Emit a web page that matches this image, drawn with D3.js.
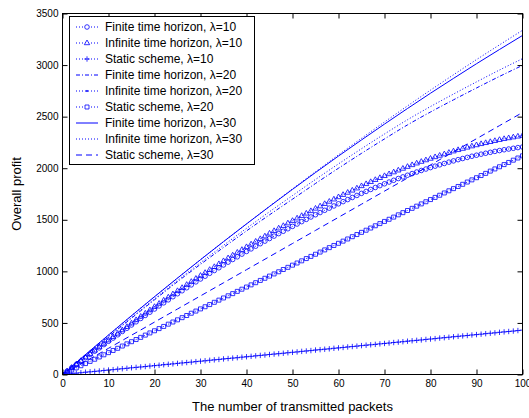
<!DOCTYPE html>
<html>
<head>
<meta charset="utf-8">
<script src="https://d3js.org/d3.v7.min.js"></script>
<style>
body { margin: 0; background: #fff; }
text { font-family: "Liberation Sans", Arial, Helvetica, sans-serif; }
.line { fill: none; stroke: #0000ff; stroke-width: 1px; }
</style>
</head>
<body>
<div id="chart"></div>
<script>
// x positions: every packet (marker series) and every 5 packets (plain lines)
var xFine = d3.range(0, 101);
var xCoarse = d3.range(0, 101, 5);

var xTicks = [0, 10, 20, 30, 40, 50, 60, 70, 80, 90, 100];
var yTicks = [0, 500, 1000, 1500, 2000, 2500, 3000, 3500];

var labels = [
  "Finite time horizon, \u03bb=10",
  "Infinite time horizon, \u03bb=10",
  "Static scheme, \u03bb=10",
  "Finite time horizon, \u03bb=20",
  "Infinite time horizon, \u03bb=20",
  "Static scheme, \u03bb=20",
  "Finite time horizon, \u03bb=30",
  "Infinite time horizon, \u03bb=30",
  "Static scheme, \u03bb=30"
];

// values
var finite10 = [0,32,65,97,129,162,194,226,258,290,
  322,353,385,417,448,480,511,543,573,604,
  635,665,695,724,754,783,812,841,869,898,
  926,953,981,1008,1035,1062,1089,1115,1141,1167,
  1193,1218,1244,1268,1293,1318,1342,1366,1389,1413,
  1436,1459,1482,1504,1527,1549,1570,1592,1613,1634,
  1655,1676,1696,1716,1736,1756,1775,1794,1813,1831,
  1849,1866,1883,1900,1916,1932,1948,1963,1978,1992,
  2006,2020,2033,2046,2059,2071,2083,2094,2105,2116,
  2126,2136,2145,2154,2163,2171,2179,2186,2193,2200,
  2206];

var infinite10 = [0,33,67,100,133,168,201,234,267,300,
  333,365,398,431,463,497,529,562,593,625,
  657,688,719,749,780,811,841,871,900,930,
  959,987,1016,1044,1072,1101,1129,1156,1183,1210,
  1237,1263,1290,1315,1341,1368,1393,1418,1442,1467,
  1491,1515,1539,1562,1586,1610,1632,1655,1677,1699,
  1721,1743,1764,1785,1806,1828,1848,1868,1888,1907,
  1926,1944,1962,1980,1997,2015,2032,2048,2064,2079,
  2094,2109,2123,2137,2151,2165,2178,2190,2202,2214,
  2225,2236,2246,2256,2266,2276,2285,2293,2301,2309,
  2316];

var static10 = [0,4,9,13,17,22,26,30,34,39,
  43,47,52,56,60,65,69,73,77,82,
  86,90,95,99,103,108,112,116,120,125,
  129,133,138,142,146,151,155,159,163,168,
  172,176,181,185,189,194,198,202,206,211,
  215,219,224,228,232,237,241,245,249,254,
  258,262,267,271,275,280,284,288,292,297,
  301,305,310,314,318,323,327,331,335,340,
  344,348,353,357,361,366,370,374,378,383,
  387,391,396,400,404,409,413,417,421,426,
  430];

var finite20 = [0,184,366,546,724,900,1068,1232,1392,1548,1700,
  1852,2000,2144,2284,2420,2545,2663,2778,2890,2997];

var infinite20 = [0,186,370,552,733,912,1084,1252,1417,1578,1735,
  1891,2042,2189,2332,2470,2598,2719,2837,2952,3062];

var static20 = [0,21,42,64,85,106,127,148,170,191,
  212,233,254,276,297,318,339,360,382,403,
  424,445,466,488,509,530,551,572,594,615,
  636,657,678,700,721,742,763,784,806,827,
  848,869,890,912,933,954,975,996,1018,1039,
  1060,1081,1102,1124,1145,1166,1187,1208,1230,1251,
  1272,1293,1314,1336,1357,1378,1399,1420,1442,1463,
  1484,1505,1526,1548,1569,1590,1611,1632,1654,1675,
  1696,1717,1738,1760,1781,1802,1823,1844,1866,1887,
  1908,1929,1950,1972,1993,2014,2035,2056,2078,2099,
  2120];

var finite30 = [0,193,383,570,754,935,1113,1288,1460,1629,1795,
  1958,2118,2274,2428,2579,2727,2871,3013,3151,3287];

var infinite30 = [0,193,383,570,754,935,1113,1288,1460,1631,1800,
  1966,2130,2290,2448,2604,2757,2906,3053,3196,3337];

var static30 = [0,127,254,381,508,635,762,889,1016,1143,1270,
  1397,1524,1651,1778,1905,2032,2159,2286,2413,2540];

var width = 529, height = 418;
var plot = {left: 62.5, right: 522.5, top: 13.5, bottom: 374.5};

var x = d3.scaleLinear().domain([0, 100]).range([plot.left, plot.right]);
var y = d3.scaleLinear().domain([0, 3500]).range([plot.bottom, plot.top]);

var markerPath = {
  circle: "M2.3,0A2.3,2.3 0 1,1 -2.3,0A2.3,2.3 0 1,1 2.3,0Z",
  triangle: "M0,-3L2.7,1.7L-2.7,1.7Z",
  square: "M-2,-2H2V2H-2Z",
  plus: "M-2.7,0H2.7M0,-2.7V2.7",
  point: "M-0.7,0A0.7,0.7 0 1,1 0.7,0A0.7,0.7 0 1,1 -0.7,0Z"
};

var series = [
  {ys: finite10, xs: xFine, dash: "1,2", marker: "circle"},
  {ys: infinite10, xs: xFine, dash: "1,2", marker: "triangle"},
  {ys: static10, xs: xFine, dash: "1,2", marker: "plus"},
  {ys: finite20, xs: xCoarse, dash: "4,2,1,2", marker: null},
  {ys: infinite20, xs: xCoarse, dash: "1,2", marker: "point"},
  {ys: static20, xs: xFine, dash: "1,2", marker: "square"},
  {ys: finite30, xs: xCoarse, dash: null, marker: null},
  {ys: infinite30, xs: xCoarse, dash: "1,2", marker: null},
  {ys: static30, xs: xCoarse, dash: "6,4", marker: null}
];

var svg = d3.select("#chart").append("svg")
  .attr("width", width)
  .attr("height", height);

svg.append("rect").attr("width", width).attr("height", height).attr("fill", "#fff");

svg.append("clipPath").attr("id", "clip")
  .append("rect")
  .attr("x", plot.left).attr("y", plot.top)
  .attr("width", plot.right - plot.left).attr("height", plot.bottom - plot.top);

var dataG = svg.append("g").attr("clip-path", "url(#clip)");

series.forEach(function(s) {
  var pts = s.xs.map(function(d, i) { return [d, s.ys[i]]; });
  var line = d3.line()
    .x(function(d) { return x(d[0]); })
    .y(function(d) { return y(d[1]); })
    .curve(s.xs === xFine ? d3.curveLinear : d3.curveMonotoneX);
  var p = dataG.append("path").datum(pts)
    .attr("class", "line")
    .attr("d", line);
  if (s.dash) p.attr("stroke-dasharray", s.dash);
  if (s.marker && s.marker !== "point") {
    dataG.selectAll(null).data(pts).enter().append("path")
      .attr("d", markerPath[s.marker])
      .attr("transform", function(d) { return "translate(" + x(d[0]) + "," + y(d[1]) + ")"; })
      .attr("fill", "none")
      .attr("stroke", "#0000ff")
      .attr("stroke-width", 0.8);
  }
});

// frame
svg.append("rect")
  .attr("x", plot.left).attr("y", plot.top)
  .attr("width", plot.right - plot.left).attr("height", plot.bottom - plot.top)
  .attr("fill", "none").attr("stroke", "#000").attr("stroke-width", 1);

function styleAxis(g) {
  g.select(".domain").remove();
  g.selectAll("line").attr("stroke", "#000");
  g.selectAll("text").attr("fill", "#000")
    .style("font-family", '"Liberation Sans", Arial, sans-serif')
    .style("font-size", "10px");
}

svg.append("g").attr("transform", "translate(0," + plot.bottom + ")")
  .call(d3.axisBottom(x).tickValues(xTicks).tickFormat(d3.format("d"))
    .tickSizeInner(-5).tickSizeOuter(0).tickPadding(5))
  .call(styleAxis);
svg.append("g").attr("transform", "translate(0," + plot.top + ")")
  .call(d3.axisTop(x).tickValues(xTicks).tickSizeInner(-5).tickSizeOuter(0).tickFormat(""))
  .call(styleAxis);
svg.append("g").attr("transform", "translate(" + plot.left + ",0)")
  .call(d3.axisLeft(y).tickValues(yTicks).tickFormat(d3.format("d"))
    .tickSizeInner(-5).tickSizeOuter(0).tickPadding(4))
  .call(styleAxis);
svg.append("g").attr("transform", "translate(" + plot.right + ",0)")
  .call(d3.axisRight(y).tickValues(yTicks).tickSizeInner(-5).tickSizeOuter(0).tickFormat(""))
  .call(styleAxis);

// axis titles
svg.append("text")
  .attr("x", (plot.left + plot.right) / 2).attr("y", 411)
  .attr("text-anchor", "middle")
  .style("font-size", "13px")
  .text("The number of transmitted packets");

svg.append("text")
  .attr("transform", "translate(21," + ((plot.top + plot.bottom) / 2) + ") rotate(-90)")
  .attr("text-anchor", "middle")
  .style("font-size", "13px")
  .text("Overall profit");

// legend
var leg = svg.append("g");
leg.append("rect")
  .attr("x", 69.5).attr("y", 16.5).attr("width", 185).attr("height", 148)
  .attr("fill", "#fff").attr("stroke", "#000").attr("stroke-width", 1);

series.forEach(function(s, i) {
  var cy = 27 + i * 16;
  var l = leg.append("line")
    .attr("x1", 76).attr("x2", 98).attr("y1", cy).attr("y2", cy)
    .attr("class", "line");
  if (s.dash) l.attr("stroke-dasharray", s.dash);
  if (s.marker) {
    leg.append("path")
      .attr("d", markerPath[s.marker])
      .attr("transform", "translate(87," + cy + ")")
      .attr("fill", s.marker === "point" ? "#0000ff" : "#fff")
      .attr("stroke", "#0000ff")
      .attr("stroke-width", 0.8);
  }
  leg.append("text")
    .attr("x", 105).attr("y", cy + 4)
    .style("font-size", "12px")
    .text(labels[i]);
});
</script>
</body>
</html>
